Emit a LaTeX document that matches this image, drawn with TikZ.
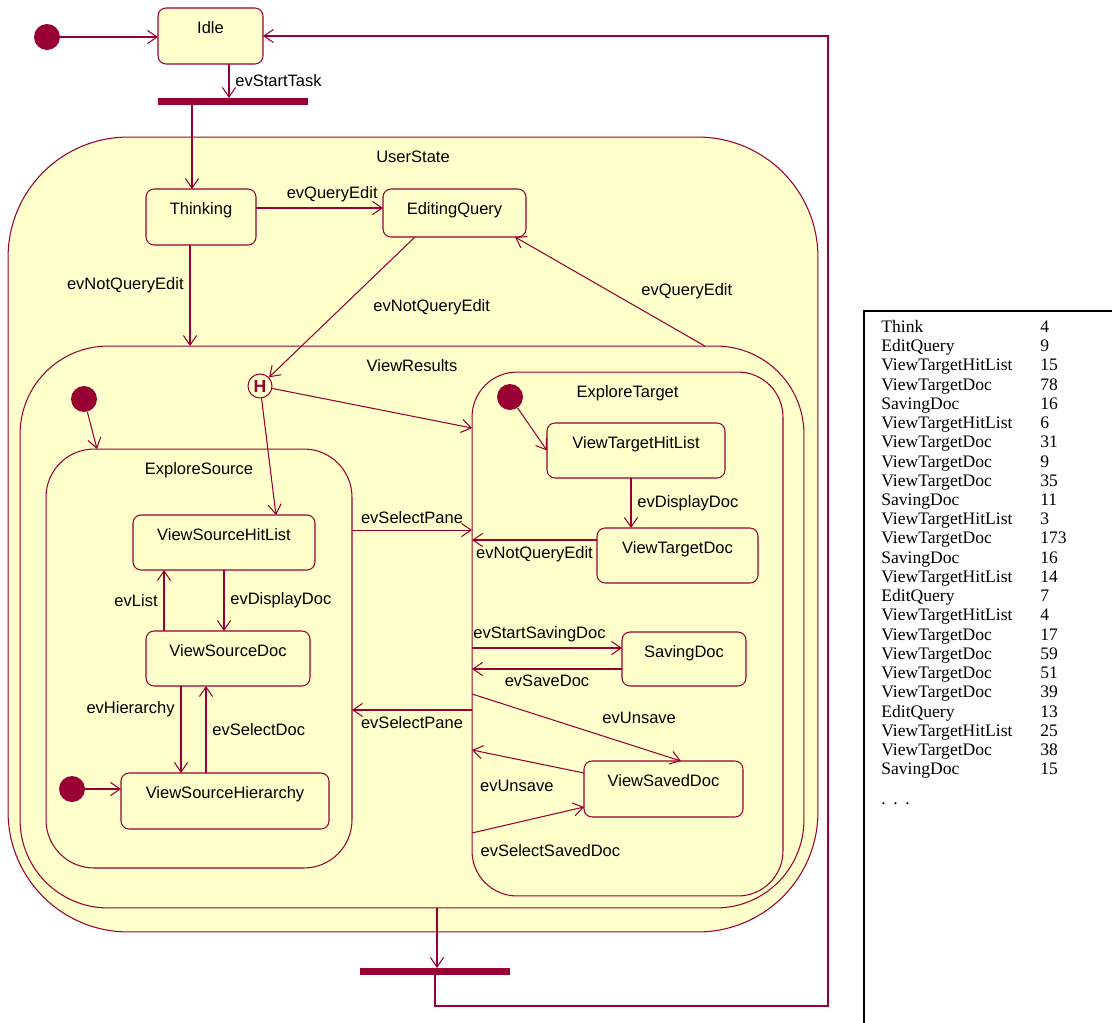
\documentclass[tikz,border=0pt]{standalone}
\usepackage{fontspec}
\setsansfont{Liberation Sans}
\newfontfamily\tabfont{Liberation Serif}
\usepackage{tikz}
\usetikzlibrary{positioning, arrows.meta}
\definecolor{umred}{HTML}{990033}
\definecolor{umfill}{HTML}{FFFFCC}

\begin{document}
\begin{tikzpicture}[x=0.02cm, y=-0.02cm,
  font=\sffamily\fontsize{9.4}{11}\selectfont,
  >={Straight Barb[length=5.5pt, width=7.5pt]},
  state/.style={draw=umred, fill=umfill, line width=0.6pt, inner sep=0pt, outer sep=0pt,
    rounded corners=0.16cm, label={[anchor=base, yshift=-0.5cm]north:#1}},
  init/.style={circle, fill=umred, minimum size=0.52cm, inner sep=0pt},
  bar/.style={fill=umred, minimum width=3cm, minimum height=0.14cm, inner sep=0pt, outer sep=0pt},
  trans/.style={->, umred, line width=0.6pt},
  lbl/.style={text=black}]
\useasboundingbox (0,0) rectangle (1112,1022);

% composite states
\node[state={UserState}, rounded corners=2.4cm, minimum width=16.2cm, minimum height=15.9cm] (user) at (413,534.5) {};
\node[state={ViewResults}, rounded corners=1.76cm, minimum width=15.68cm, minimum height=11.24cm] (viewres) at (412,627) {};
\node[state={ExploreSource}, rounded corners=0.96cm, minimum width=6.12cm, minimum height=8.38cm] (exsrc) at (199,658.5) {};
\node[state={ExploreTarget}, rounded corners=0.9cm, minimum width=6.22cm, minimum height=10.48cm] (extgt) at (627.5,634) {};

% simple states
\node[state={Idle}, minimum width=2.1cm, minimum height=1.12cm] (idle) at (210.5,36) {};
\node[state={Thinking}, minimum width=2.2cm, minimum height=1.12cm] (think) at (201,217) {};
\node[state={EditingQuery}, minimum width=2.86cm, minimum height=0.96cm] (editq) at (454.5,213) {};
\node[state={ViewSourceHitList}, minimum width=3.64cm, minimum height=1.1cm] (vshl) at (224,542.5) {};
\node[state={ViewSourceDoc}, minimum width=3.28cm, minimum height=1.1cm] (vsd) at (228,658.5) {};
\node[state={ViewSourceHierarchy}, minimum width=4.16cm, minimum height=1.12cm] (vsh) at (225,801) {};
\node[state={ViewTargetHitList}, minimum width=3.56cm, minimum height=1.1cm] (vthl) at (636,450.5) {};
\node[state={ViewTargetDoc}, minimum width=3.22cm, minimum height=1.1cm] (vtd) at (677.5,555.5) {};
\node[state={SavingDoc}, minimum width=2.48cm, minimum height=1.08cm] (saving) at (684,659) {};
\node[state={ViewSavedDoc}, minimum width=3.18cm, minimum height=1.12cm] (vsaved) at (663.5,789) {};

\node[circle, draw=umred, fill=umfill, line width=0.6pt, minimum size=0.48cm, inner sep=0pt,
  text=umred, font=\sffamily\bfseries\fontsize{10}{10}\selectfont] (hist) at (260,386) {H};

\node[init] (init0) at (47,37) {};
\node[init] (init1) at (84,399) {};
\node[init] (init2) at (72,789) {};
\node[init] (init3) at (510,397) {};
\node[bar] (fork) at (233,101.5) {};
\node[bar] (join) at (435,971.5) {};
\coordinate (ret) at (828,1006);

% transitions
\draw[trans] (init0) -- (init0 -| idle.west);
\draw[trans] ([xshift=0.37cm]idle.south) -- node[lbl, right] {evStartTask} ([xshift=0.37cm]idle.south |- fork.north);
\draw[trans] ([xshift=-0.18cm]think.north |- fork.south) -- ([xshift=-0.18cm]think.north);
\draw[trans] ([yshift=0.18cm]think.east) -- node[lbl, above, pos=0.6] {evQueryEdit} ([yshift=0.18cm]think.east -| editq.west);
\draw[trans] ([xshift=-0.22cm]think.south) -- node[lbl, left, pos=0.4] {evNotQueryEdit} ([xshift=-0.22cm]think.south |- viewres.north);
\draw[trans] ([xshift=-0.79cm]editq.south) -- node[lbl, right=0.5cm] {evNotQueryEdit} (hist);
\draw[trans] ([xshift=5.86cm]viewres.north) -- node[lbl, right=0.5cm] {evQueryEdit} ([xshift=1.21cm]editq.south);

\draw[trans] (init1) -- ([xshift=1.02cm]exsrc.north west);
\draw[trans] (hist) -- ([yshift=-1.12cm]extgt.north west);
\draw[trans] (hist) -- ([xshift=1.04cm]vshl.north);

\draw[trans] ([xshift=-1.28cm]vsd.north) -- node[lbl, left] {evList} ([xshift=-1.28cm]vsd.north |- vshl.south);
\draw[trans] (vshl.south) -- node[lbl, right] {evDisplayDoc} (vshl.south |- vsd.north);
\draw[trans] ([xshift=-0.94cm]vsd.south) -- node[lbl, left, pos=0.27] {evHierarchy} ([xshift=-0.94cm]vsd.south |- vsh.north);
\draw[trans] ([xshift=-0.38cm]vsh.north) -- node[lbl, right] {evSelectDoc} ([xshift=-0.38cm]vsh.north |- vsd.south);
\draw[trans] (init2) -- (init2 -| vsh.west);

\draw[trans] ([yshift=2.57cm]exsrc.east) -- node[lbl, above] {evSelectPane} ([yshift=2.57cm]exsrc.east -| extgt.west);
\draw[trans] ([yshift=-1.52cm]extgt.west) -- node[lbl, below] {evSelectPane} ([yshift=-1.52cm]extgt.west -| exsrc.east);

\draw[trans] (init3) -- (vthl.west);
\draw[trans] ([xshift=-0.1cm]vthl.south) -- node[lbl, right] {evDisplayDoc} ([xshift=-0.1cm]vthl.south |- vtd.north);
\draw[trans] ([yshift=0.31cm]vtd.west) -- node[lbl, below] {evNotQueryEdit} ([yshift=0.31cm]vtd.west -| extgt.west);
\draw[trans] ([yshift=0.22cm]saving.west -| extgt.west) -- node[lbl, above, pos=0.45] {evStartSavingDoc} ([yshift=0.22cm]saving.west);
\draw[trans] ([yshift=-0.2cm]saving.west) -- node[lbl, below] {evSaveDoc} ([yshift=-0.2cm]saving.west -| extgt.west);
\draw[trans] ([yshift=-1.2cm]extgt.west) -- node[lbl, pos=0.8, above=0.35cm] {evUnsave} ([xshift=0.35cm]vsaved.north);
\draw[trans] ([yshift=0.32cm]vsaved.west) -- node[lbl, pos=0.6, below=0.3cm] {evUnsave} ([yshift=-2.32cm]extgt.west);
\draw[trans] ([yshift=-3.98cm]extgt.west) -- node[lbl, pos=0.7, below=0.46cm] {evSelectSavedDoc} ([yshift=-0.36cm]vsaved.west);

\draw[trans] ([xshift=0.5cm]viewres.south) -- ([xshift=0.5cm]viewres.south |- join.north);
\draw[trans] (join.south) |- (ret) |- (idle.east);

% run log
\draw[line width=0.8pt] (864,1040) |- (1130,311);
\node[anchor=north west, inner sep=0pt, font=\tabfont\fontsize{10}{10.95}\selectfont] (runlog) at (881,318.5) {%
\begin{tabular}{@{}p{3.18cm}@{}l@{}}
Think & 4\\
EditQuery & 9\\
ViewTargetHitList & 15\\
ViewTargetDoc & 78\\
SavingDoc & 16\\
ViewTargetHitList & 6\\
ViewTargetDoc & 31\\
ViewTargetDoc & 9\\
ViewTargetDoc & 35\\
SavingDoc & 11\\
ViewTargetHitList & 3\\
ViewTargetDoc & 173\\
SavingDoc & 16\\
ViewTargetHitList & 14\\
EditQuery & 7\\
ViewTargetHitList & 4\\
ViewTargetDoc & 17\\
ViewTargetDoc & 59\\
ViewTargetDoc & 51\\
ViewTargetDoc & 39\\
EditQuery & 13\\
ViewTargetHitList & 25\\
ViewTargetDoc & 38\\
SavingDoc & 15\\[0.2cm]
.\hspace{4.3pt}.\hspace{4.3pt}. &
\end{tabular}};
\end{tikzpicture}
\end{document}
